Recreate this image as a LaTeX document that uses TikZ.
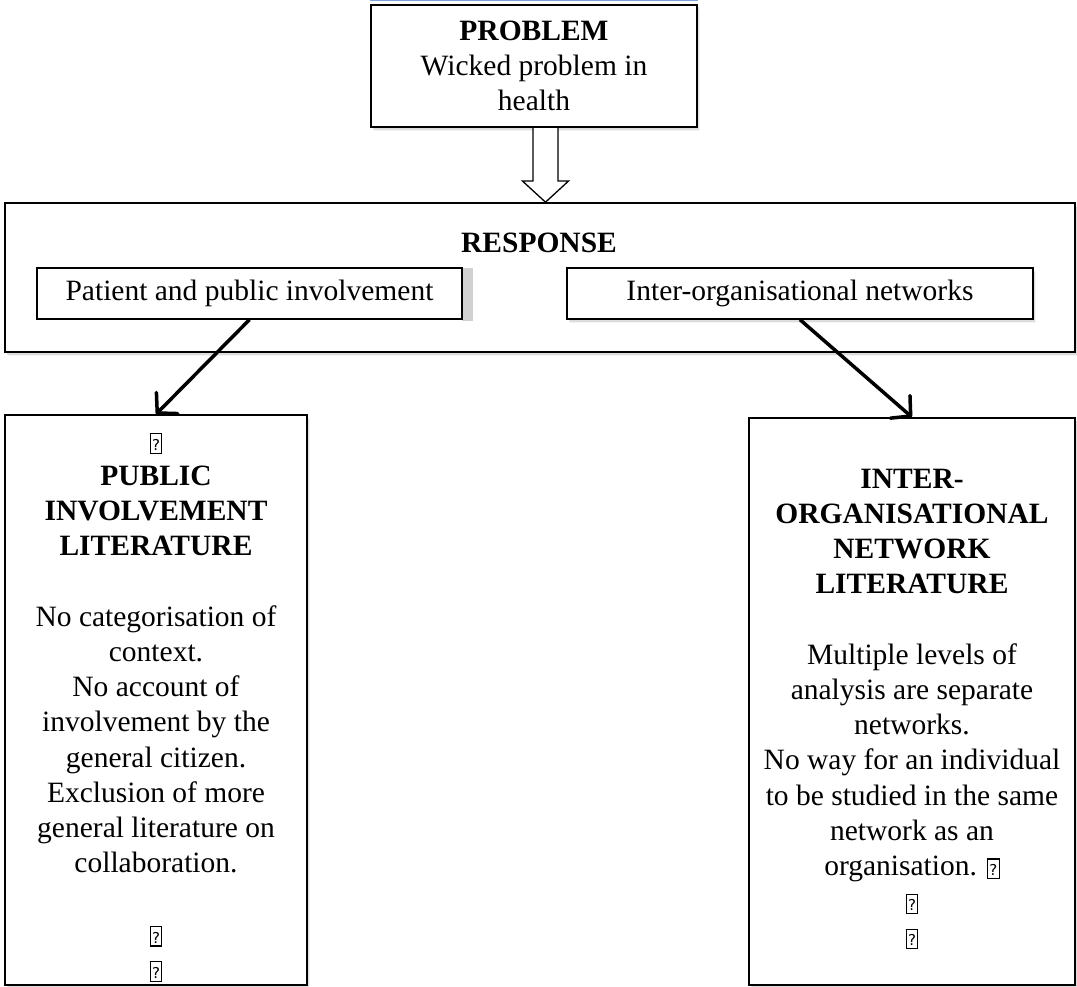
\documentclass[tikz,border=0pt]{standalone}
\usepackage{fontspec}
\setmainfont{Liberation Serif}
\newfontfamily\glyphfont{DejaVu Sans}
\usetikzlibrary{arrows.meta,shadows,calc}
% framed question mark that stands for an unprintable symbol
\newcommand\nog{{\setlength\fboxsep{1.4pt}\setlength\fboxrule{1.1pt}%
  \fbox{\rule[-1pt]{0pt}{15.5pt}\fontsize{15}{15}\selectfont\glyphfont ?}}}
\begin{document}
\begin{tikzpicture}[x=1pt,y=-1pt,
  font=\fontsize{29.5}{35.2}\selectfont,
  softshadow/.style={
    drop shadow={shadow xshift=1pt,shadow yshift=-1.2pt,opacity=.30,fill=black!70},
    drop shadow={shadow xshift=2.2pt,shadow yshift=-2.6pt,opacity=.14,fill=black!70},
    drop shadow={shadow xshift=3.4pt,shadow yshift=-4pt,opacity=.06,fill=black!70}},
  bigbox/.style={draw,line width=1.6pt,fill=white,inner sep=0pt},
  smallbox/.style={draw,line width=1.3pt,fill=white,inner sep=0pt},
  txt/.style={align=center,inner sep=0pt},
  link/.style={line width=3.5pt,
    -{Straight Barb[length=14pt,width=30pt,line width=3.5pt,round]}},
  hollow/.style={draw,line width=1.3pt,fill=white,line join=miter}]
\useasboundingbox (0,0) rectangle (1077,987);

% problem box with its thin blue rule on top
\node[bigbox,softshadow,minimum width=326pt,minimum height=122.5pt,align=center]
  (prob) at (534,66) {\textbf{PROBLEM}\\Wicked problem in\\health};
\draw[line width=1.5pt,color={rgb,255:red,120;green,160;blue,215}]
  ($(prob.north west)+(0,-3.2)$) -- ($(prob.north east)+(0,-3.2)$);

% response frame
\node[bigbox,softshadow,minimum width=1070pt,minimum height=149pt]
  (resp) at (540,277.5) {};
\node[txt,font=\fontsize{29.5}{35.2}\selectfont\bfseries] (resptxt) at (539,243) {RESPONSE};

% the two responses
\fill[black!18] (462,268) rectangle (473,321);
\node[smallbox,minimum width=425pt,minimum height=51pt]
  (ppi) at (249.5,293.5) {Patient and public involvement};
\node[smallbox,softshadow,minimum width=466pt,minimum height=51pt]
  (ion) at (800,293.5) {Inter-organisational networks};

% hollow arrow from problem to response
\coordinate (hat) at ($(prob.south)+(11.5,0)$);
\coordinate (htip) at ($(resp.north)+(5.5,0)$);
\draw[hollow] ($(hat)+(-12.5,0)$) -- ($(hat)+(-12.5,53)$) -- ($(hat)+(-23,53)$)
  -- (htip) -- ($(hat)+(23,53)$) -- ($(hat)+(12.5,53)$) -- ($(hat)+(12.5,0)$);

% literature boxes
\node[bigbox,softshadow,minimum width=302pt,minimum height=570pt]
  (pil) at (156,700) {};
\node[txt,anchor=north] (pilt) at (156,425.4) {\strut\nog\\
  \textbf{PUBLIC}\\
  \textbf{INVOLVEMENT}\\
  \textbf{LITERATURE}\\[35.2pt]
  No categorisation of\\
  context.\\
  No account of\\
  involvement by the\\
  general citizen.\\
  Exclusion of more\\
  general literature on\\
  collaboration.\\[35.2pt]
  \nog\\
  \nog};

\node[bigbox,softshadow,minimum width=326pt,minimum height=567pt]
  (ionl) at (912,701.5) {};
\node[txt,anchor=north] (ionlt) at (912,463.4) {\strut\textbf{INTER-}\\
  \textbf{ORGANISATIONAL}\\
  \textbf{NETWORK}\\
  \textbf{LITERATURE}\\[35.2pt]
  Multiple levels of\\
  analysis are separate\\
  networks.\\
  No way for an individual\\
  to be studied in the same\\
  network as an\\
  organisation. \nog\\
  \nog\\
  \nog};

% connectors
\draw[link] (ppi.south) -- (pil.north);
\draw[link] (ion.south) -- (ionl.north);
\end{tikzpicture}
\end{document}
